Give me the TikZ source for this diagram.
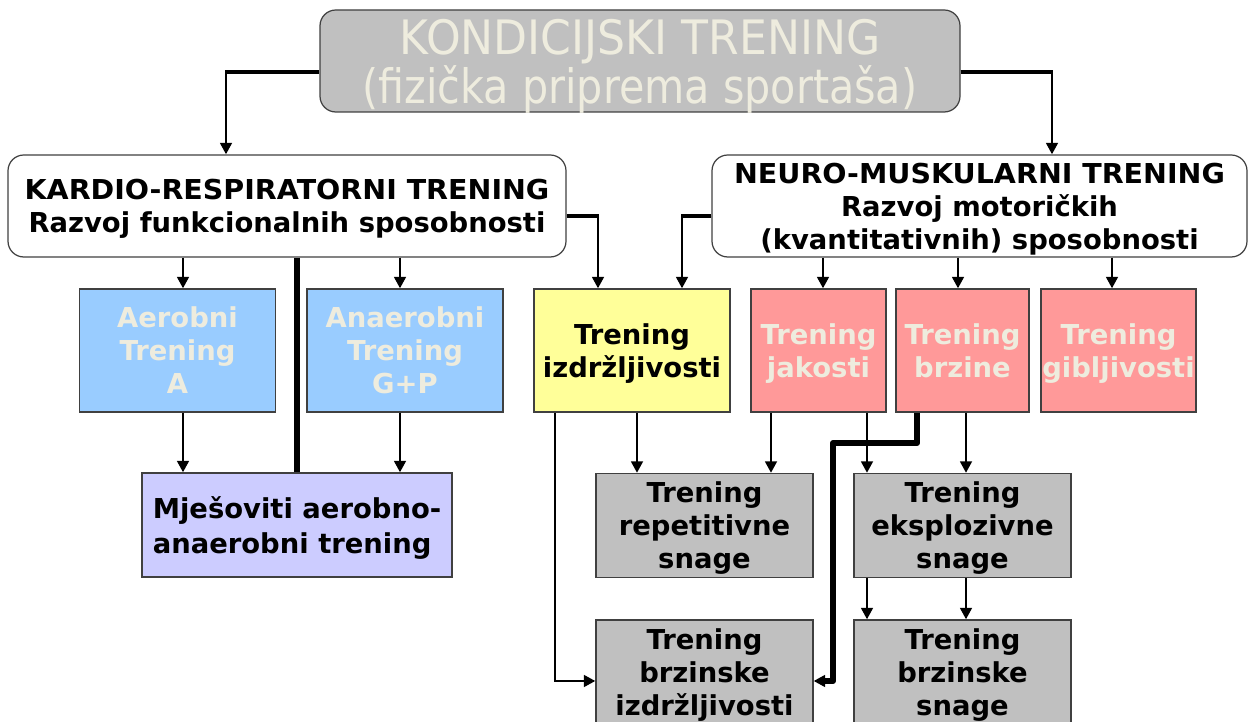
\documentclass[tikz,border=0pt]{standalone}
\usepackage{fontspec}
\setmainfont{DejaVu Sans}
\newfontfamily\titlecaps[FakeStretch=0.93]{DejaVu Sans}
\newfontfamily\titlelower[FakeStretch=0.87]{DejaVu Sans}
\newfontfamily\headcaps[FakeStretch=1.04]{DejaVu Sans}
\usetikzlibrary{arrows.meta}
\definecolor{boxgray}{RGB}{192,192,192}
\definecolor{cream}{RGB}{238,236,222}
\definecolor{skyblue}{RGB}{153,204,255}
\definecolor{lavender}{RGB}{204,204,255}
\definecolor{paleyellow}{RGB}{255,255,153}
\definecolor{salmon}{RGB}{255,153,153}
\definecolor{edge}{RGB}{64,64,64}
\begin{document}
\begin{tikzpicture}[x=0.02cm, y=-0.02cm,
  every node/.style={inner sep=0pt, align=center, text depth=0pt,
    font=\bfseries\fontsize{15.6}{18.8}\selectfont},
  cellbox/.style={draw=edge, line width=0.7pt, minimum height=123*0.02cm},
  headbox/.style={cellbox, rounded corners=9pt, fill=white, minimum height=102*0.02cm},
  link/.style={line width=1.7pt, -{Triangle[length=6.5pt,width=6.5pt]}},
  bar/.style={line width=2.8pt},
  heavy/.style={line width=3.4pt, line join=round}]
\clip (0,0) rectangle (1249,722);
% glavni okviri
\node[headbox, fill=boxgray, text=cream, minimum width=640*0.02cm, text depth=-4.5pt,
  font=\fontsize{27}{26.7}\selectfont] (top) at (640,61)
  {{\titlecaps KONDICIJSKI TRENING}\\{\titlelower(fizička priprema sportaša)}};
\node[headbox, minimum width=558*0.02cm] (kr) at (287,206)
  {{\headcaps KARDIO-RESPIRATORNI TRENING}\\Razvoj funkcionalnih sposobnosti};
\node[headbox, minimum width=535*0.02cm] (nm) at (979.5,206)
  {{\headcaps NEURO-MUSKULARNI TRENING}\\Razvoj motoričkih\\(kvantitativnih) sposobnosti};
% drugi red
\foreach \n/\x/\t in {aer/177.5/Aerobni\\Trening\\A, anaer/405/Anaerobni\\Trening\\G+P}
  \node[cellbox, fill=skyblue, text=cream, minimum width=196*0.02cm] (\n) at (\x,350.5) {\t};
\node[cellbox, fill=paleyellow, minimum width=196*0.02cm] (izd) at (632,350.5) {Trening\\izdržljivosti};
\foreach \n/\x/\w/\t in {jak/818.5/135/jakosti, brz/962.5/133/brzine, gib/1118.5/155/gibljivosti}
  \node[cellbox, fill=salmon, text=cream, minimum width=\w*0.02cm] (\n) at (\x,350.5) {Trening\\\t};
% treci red
\node[cellbox, fill=lavender, minimum width=310*0.02cm, minimum height=104*0.02cm, align=left,
  font=\bfseries\fontsize{15.6}{19.8}\selectfont] (mix) at (297,525) {Mješoviti aerobno-\\anaerobni trening};
\foreach \n/\x/\y/\t in {rep/704.5/525.5/repetitivne\\snage, eks/962.5/525.5/eksplozivne\\snage,
    bizd/704.5/672/brzinske\\izdržljivosti, bsn/962.5/672/brzinske\\snage}
  \node[cellbox, fill=boxgray, minimum width=217*0.02cm, minimum height=104*0.02cm] (\n) at (\x,\y) {Trening\\\t};
% veze
\draw[link] (top.west |- 0,72) -| (kr.north -| 226,0);
\draw[bar] (top.west |- 0,72) -- ++(-94,0);
\draw[link] (top.east |- 0,72) -| (nm.north -| 1052,0);
\draw[bar] (top.east |- 0,72) -- ++(92,0);
\foreach \x/\n in {183/aer,400/anaer} {
  \draw[link] (kr.south -| \x,0) -- (\n.north -| \x,0);
  \draw[link] (\n.south -| \x,0) -- (mix.north -| \x,0);
}
\draw[heavy] (kr.south -| 297,0) -- (mix.north -| 297,0);
\draw[link] (kr.east |- 0,216) -| (izd.north -| 598,0);
\draw[bar] (kr.east |- 0,216) -- ++(32,0);
\draw[link] (nm.west |- 0,216) -| (izd.north -| 682,0);
\draw[bar] (nm.west |- 0,216) -- ++(-30,0);
\foreach \x/\n in {823/jak,958/brz,1112/gib}
  \draw[link] (nm.south -| \x,0) -- (\n.north -| \x,0);
\foreach \x/\a/\b in {637/izd/rep,771/jak/rep,867/jak/eks,966/brz/eks,867/eks/bsn,966/eks/bsn}
  \draw[link] (\a.south -| \x,0) -- (\b.north -| \x,0);
\draw[link] (izd.south -| 555,0) |- (bizd.west |- 0,681);
\draw[heavy, -{Triangle[length=6.5pt,width=6.5pt]}] (brz.south -| 917,0) |- (833,443) |- (bizd.east |- 0,681);
\end{tikzpicture}
\end{document}
